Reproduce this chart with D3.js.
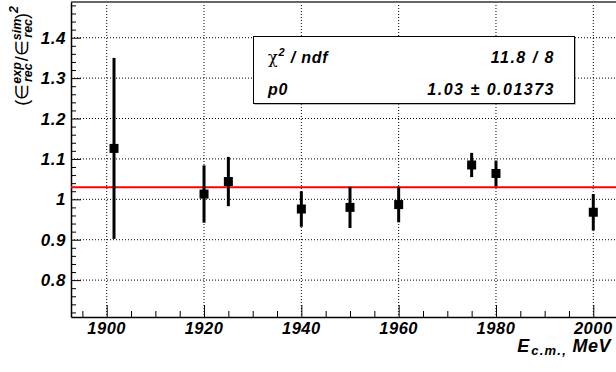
<!DOCTYPE html>
<html>
<head>
<meta charset="utf-8">
<script src="https://cdn.jsdelivr.net/npm/d3@7"></script>
<style>
  body { margin: 0; background: #fff; }
  svg text { font-family: "Liberation Sans", Arial, sans-serif; font-weight: bold; font-style: italic; }
</style>
</head>
<body>
<div id="chart"></div>
<script>
// measured points: energy (MeV), ratio, symmetric error
const energies = [1901.5, 1920, 1925, 1940, 1950, 1960, 1975, 1980, 2000];
const ratios   = [1.126, 1.013, 1.044, 0.976, 0.980, 0.987, 1.085, 1.064, 0.968];
const errors   = [0.224, 0.071, 0.061, 0.044, 0.051, 0.044, 0.030, 0.032, 0.045];
const xTicks = [1900, 1920, 1940, 1960, 1980, 2000];
const yTicks = [0.8, 0.9, 1.0, 1.1, 1.2, 1.3, 1.4];
const fitValue = 1.03;
const statRows = [["χ", "2", " / ndf", "11.8 / 8"], ["p0", "", "", "1.03 ± 0.01373"]];

const width = 616, height = 372;
const frameL = 71, frameT = 2, frameR = 622, frameB = 317;

const svg = d3.select('#chart').append('svg')
  .attr('width', width).attr('height', height);

const x = d3.scaleLinear().domain([1892.66, 2005.9]).range([frameL, frameR]);
const y = d3.scaleLinear().domain([0.7087, 1.4884]).range([frameB, frameT]);

// grid
svg.append('g').selectAll('line').data(xTicks).enter().append('line')
  .attr('x1', d => x(d)).attr('x2', d => x(d))
  .attr('y1', frameT).attr('y2', frameB)
  .attr('stroke', '#000').attr('stroke-width', 1).attr('stroke-dasharray', '1,2');
svg.append('g').selectAll('line').data(yTicks).enter().append('line')
  .attr('x1', frameL).attr('x2', width)
  .attr('y1', d => y(d)).attr('y2', d => y(d))
  .attr('stroke', '#000').attr('stroke-width', 1).attr('stroke-dasharray', '1,2');

// frame top
svg.append('line').attr('x1', frameL).attr('x2', width).attr('y1', frameT).attr('y2', frameT)
  .attr('stroke', '#666').attr('stroke-width', 2);

// axes
const xAxis = d3.axisBottom(x).tickValues(d3.range(1895, 2006, 5))
  .tickSize(0).tickFormat('');
const gx = svg.append('g').attr('transform', `translate(0,${frameB})`).call(xAxis);
gx.select('.domain').attr('stroke', '#000').attr('stroke-width', 1.5);
gx.selectAll('.tick line')
  .attr('y2', d => xTicks.includes(d) ? -12 : -6)
  .attr('stroke', '#000');
svg.append('g').selectAll('text').data(xTicks).enter().append('text')
  .attr('x', d => x(d)).attr('y', 334)
  .attr('text-anchor', 'middle').attr('font-size', 16.5).attr('letter-spacing', 0.5)
  .text(d => d);

const yMinor = d3.range(36, 75).map(v => v / 50).filter(v => v > 0.7087 && v < 1.4884);
const yAxis = d3.axisLeft(y).tickValues(yMinor).tickSize(0).tickFormat('');
const gy = svg.append('g').attr('transform', `translate(${frameL},0)`).call(yAxis);
gy.select('.domain').attr('stroke', '#000').attr('stroke-width', 1.5);
gy.selectAll('.tick line')
  .attr('x2', d => yTicks.some(t => Math.abs(t - d) < 1e-6) ? 10 : 5)
  .attr('stroke', '#000');
svg.append('g').selectAll('text').data(yTicks).enter().append('text')
  .attr('x', 66).attr('y', d => y(d) + 6)
  .attr('text-anchor', 'end').attr('font-size', 17).attr('letter-spacing', 0.5)
  .text(d => d3.format('~g')(d));

// fit line
svg.append('line')
  .attr('x1', frameL).attr('x2', width)
  .attr('y1', y(fitValue)).attr('y2', y(fitValue))
  .attr('stroke', '#f00').attr('stroke-width', 2);

// error bars + markers
const pts = energies.map((e, i) => ({ e, v: ratios[i], err: errors[i] }));
svg.append('g').selectAll('line').data(pts).enter().append('line')
  .attr('x1', d => x(d.e)).attr('x2', d => x(d.e))
  .attr('y1', d => y(d.v + d.err)).attr('y2', d => y(d.v - d.err))
  .attr('stroke', '#000').attr('stroke-width', 3);
svg.append('g').selectAll('rect').data(pts).enter().append('rect')
  .attr('x', d => x(d.e) - 4.5).attr('y', d => y(d.v) - 4.5)
  .attr('width', 9).attr('height', 9).attr('fill', '#000');

// stats box
svg.append('rect').attr('x', 254.5).attr('y', 37.5).attr('width', 321).attr('height', 67).attr('fill', '#777');
svg.append('rect').attr('x', 253.5).attr('y', 36.5).attr('width', 321).attr('height', 67)
  .attr('fill', '#fff').attr('stroke', '#000').attr('stroke-width', 1);
statRows.forEach((r, i) => {
  const yy = 63 + i * 32;
  const t = svg.append('text').attr('x', 268).attr('y', yy).attr('font-size', 16).attr('letter-spacing', 0.8);
  t.append('tspan').text(r[0]).attr('font-style', r[1] ? 'normal' : 'italic').attr('font-weight', r[1] ? 'normal' : 'bold')
    .attr('font-family', r[1] ? 'DejaVu Serif' : null);
  if (r[1]) t.append('tspan').text(r[1]).attr('font-size', 11).attr('dy', -7);
  if (r[2]) t.append('tspan').text(r[2]).attr('dy', r[1] ? 7 : 0);
  svg.append('text').attr('x', 555).attr('y', yy).attr('text-anchor', 'end')
    .attr('font-size', 16).attr('letter-spacing', 1.5).text(r[3]);
});

// x title
const xt = svg.append('text').attr('x', 611).attr('y', 352).attr('text-anchor', 'end').attr('font-size', 18);
xt.append('tspan').text('E');
xt.append('tspan').text('c.m.,').attr('font-size', 13).attr('dy', 3).attr('dx', 2).attr('letter-spacing', 1.2);
xt.append('tspan').text(' MeV').attr('dy', -3).attr('letter-spacing', 0.5);

// y title
const yt = svg.append('text').attr('transform', 'translate(28,6) rotate(-90)')
  .attr('text-anchor', 'end').attr('font-size', 18);
yt.append('tspan').text('(').attr('font-style', 'normal').attr('font-weight', 'normal');
yt.append('tspan').text('∈').attr('font-style', 'normal').attr('font-weight', 'normal');
yt.append('tspan').text('exp').attr('font-size', 12.5).attr('dy', -7);
yt.append('tspan').text('rec').attr('font-size', 12.5).attr('dx', -20).attr('dy', 11);
yt.append('tspan').text('/').attr('dy', -4).attr('dx', 2).attr('font-style', 'normal').attr('font-weight', 'normal');
yt.append('tspan').text('∈').attr('font-style', 'normal').attr('font-weight', 'normal');
yt.append('tspan').text('sim').attr('font-size', 12.5).attr('dy', -7);
yt.append('tspan').text('rec').attr('font-size', 12.5).attr('dx', -19).attr('dy', 11);
yt.append('tspan').text(')').attr('dy', -4).attr('font-style', 'normal').attr('font-weight', 'normal');
yt.append('tspan').text('2').attr('font-size', 12.5).attr('dy', -10);
</script>
</body>
</html>
